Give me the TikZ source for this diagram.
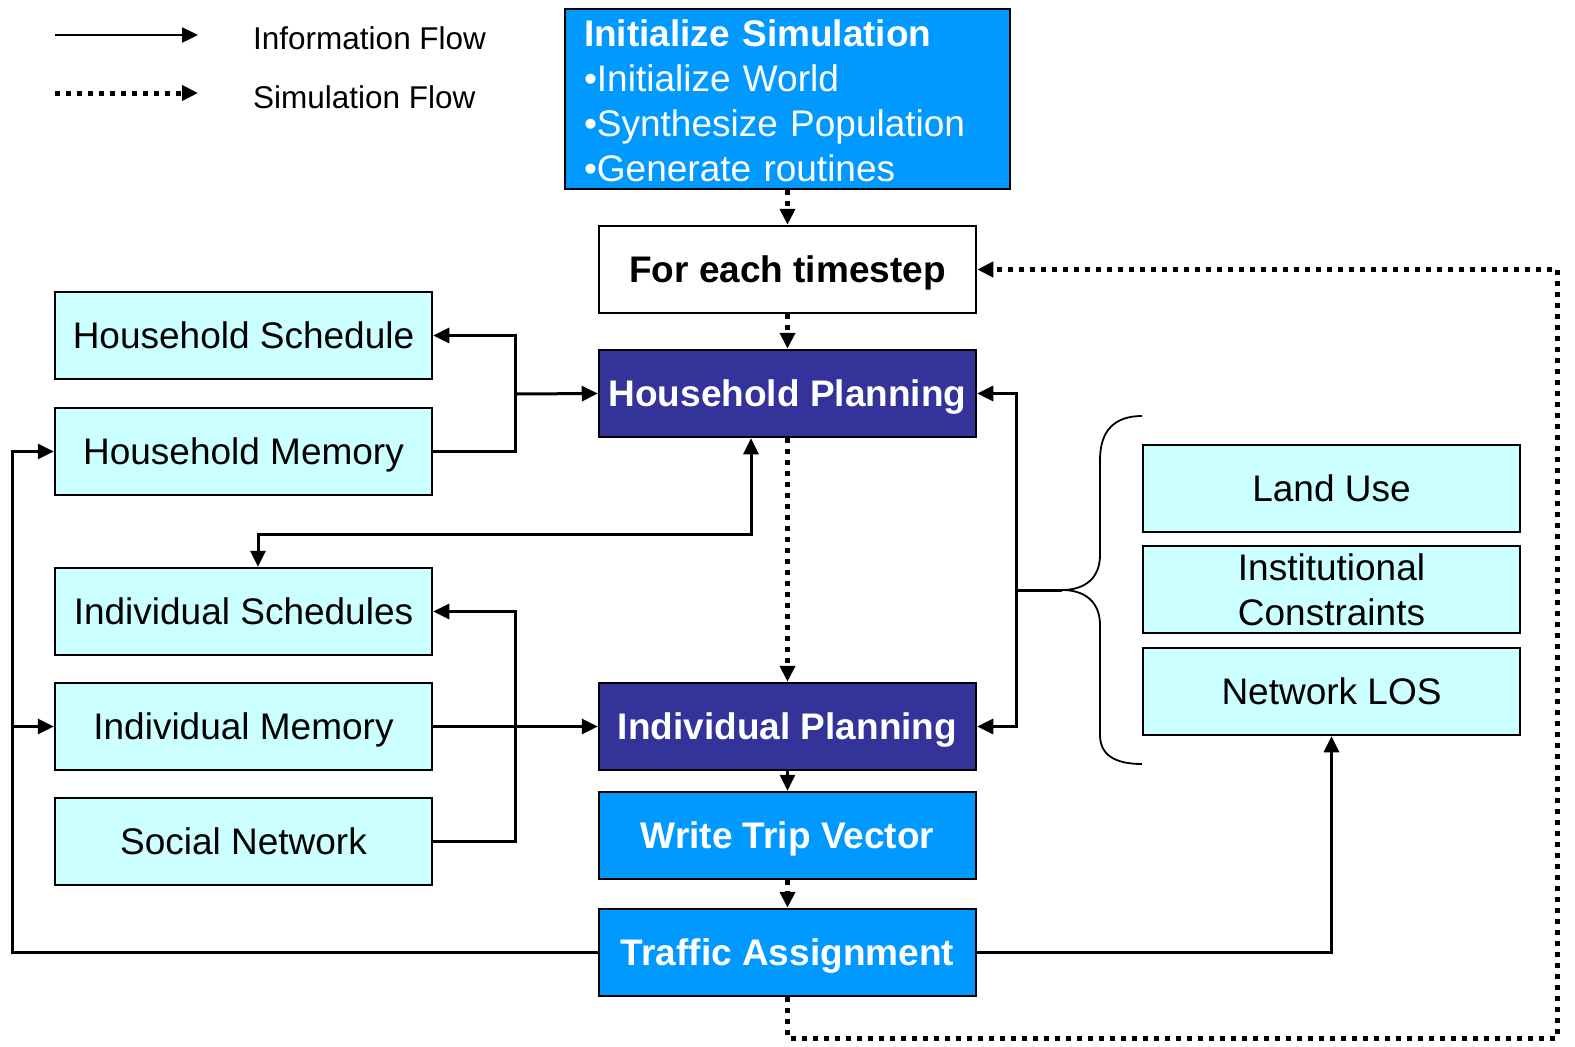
\documentclass[tikz,border=0pt]{standalone}
\usepackage{fontspec}
\setmainfont{Liberation Sans}
\usetikzlibrary{arrows.meta}
\definecolor{cblue}{HTML}{0099FF}
\definecolor{cdark}{HTML}{333399}
\definecolor{clight}{HTML}{CCFFFF}
\tikzset{
  box/.style={draw=black,line width=2.5pt,minimum width=377pt,minimum height=87pt,inner sep=0pt,
    font=\fontsize{37}{42}\selectfont,align=center,text depth=0pt},
  lightbox/.style={box,fill=clight},
  darkbox/.style={box,fill=cdark,text=white,font=\fontsize{37}{42}\selectfont\bfseries},
  bluebox/.style={box,fill=cblue,text=white,font=\fontsize{37}{42}\selectfont\bfseries},
  tip/.style={},
  info/.style={line width=3pt,-{Triangle[length=16pt,width=15pt]}},
  infoline/.style={line width=3pt},
  simflow/.style={line width=5pt,dash pattern=on 5pt off 6pt,-{Triangle[length=16pt,width=15pt]}},
  legtext/.style={anchor=west,font=\fontsize{31.5}{36}\selectfont,inner sep=0pt}
}
\begin{document}
\begin{tikzpicture}[x=1pt,y=-1pt]
\useasboundingbox (0,0) rectangle (1575,1047);
% legend
\coordinate (la1) at (55,35);
\coordinate (la2) at (198,35);
\coordinate (lb1) at (55,93);
\coordinate (lb2) at (198,93);
\draw[info,line width=2.5pt] (la1) -- (la2);
\draw[simflow] (lb1) -- (lb2);
\node[legtext] (lt1) at (253,38) {Information Flow};
\node[legtext] (lt2) at (253,97) {Simulation Flow};
% main column
\node[box,fill=cblue,text=white,minimum width=445pt,minimum height=180pt] (init) at (787.5,99) {};
\node[text=white,align=left,text width=407pt,inner sep=0pt,font=\fontsize{37}{45}\selectfont] (inittext) at (787.5,101)
  {\textbf{Initialize Simulation}\\•Initialize World\\•Synthesize Population\\•Generate routines};
\node[box,fill=white,font=\fontsize{37}{42}\selectfont\bfseries] (fet) at (787.5,269.5) {For each timestep};
\node[darkbox] (hp) at (787.5,393.5) {Household Planning};
\node[darkbox] (ip) at (787.5,726.5) {Individual Planning};
\node[bluebox] (wtv) at (787.5,835.5) {Write Trip Vector};
\node[bluebox] (ta) at (787.5,952.5) {Traffic Assignment};
% left column
\node[lightbox] (hs) at (243.5,335.5) {Household Schedule};
\node[lightbox] (hm) at (243.5,451.5) {Household Memory};
\node[lightbox] (is) at (243.5,611.5) {Individual Schedules};
\node[lightbox] (im) at (243.5,726.5) {Individual Memory};
\node[lightbox] (sn) at (243.5,841.5) {Social Network};
% right column
\node[lightbox] (lu) at (1331.5,488.5) {Land Use};
\node[lightbox,font=\fontsize{37}{45}\selectfont] (ic) at (1331.5,589.5) {Institutional\\Constraints};
\node[lightbox] (nlos) at (1331.5,691.5) {Network LOS};
% simulation flow
\draw[simflow] (init.south) -- (fet.north);
\draw[simflow] (fet.south) -- (hp.north);
\draw[simflow] (hp.south) -- (ip.north);
\draw[info] (ip.south) -- (wtv.north);
\draw[simflow] (wtv.south) -- (ta.north);
\coordinate (loopbr) at (1557,1038);
\draw[simflow] (ta.south) |- (loopbr) |- (fet.east);
% household info
\coordinate (j1) at (515,394);
\draw[infoline] (hm.east) -| (j1);
\draw[info] (j1) |- (hs.east);
\draw[info] (j1) -- (hp.west);
\coordinate (c1) at (751,534);
\draw[info,{Triangle[length=16pt,width=15pt]}-{Triangle[length=16pt,width=15pt]}] (c1 |- hp.south) -- (c1) -| ([xshift=14.5pt]is.north);
% individual info
\coordinate (j3) at (515,611.5);
\draw[info] (sn.east) -| (j3) -- (is.east);
\draw[info] (im.east) -- (ip.west);
% right side
\coordinate (r1) at (1016,590);
\coordinate (btip) at (1062,590);
\draw[info] (r1) |- (hp.east);
\draw[info] (r1) |- (ip.east);
\draw[infoline] (r1) -- (btip);
\draw[line width=1.8pt] (1142,416) .. controls (1115,416) and (1100,430) .. (1100,460) -- (1100,555)
  .. controls (1100,578) and (1085,590) .. (btip)
  .. controls (1085,590) and (1100,602) .. (1100,625) -- (1100,735)
  .. controls (1100,755) and (1115,764) .. (1142,764);
\draw[info] (ta.east) -| (nlos.south);
% left loop
\coordinate (l1) at (12,726.5);
\draw[info] (ta.west) -| (l1) |- (hm.west);
\draw[info] (l1) -- (im.west);
\end{tikzpicture}
\end{document}
